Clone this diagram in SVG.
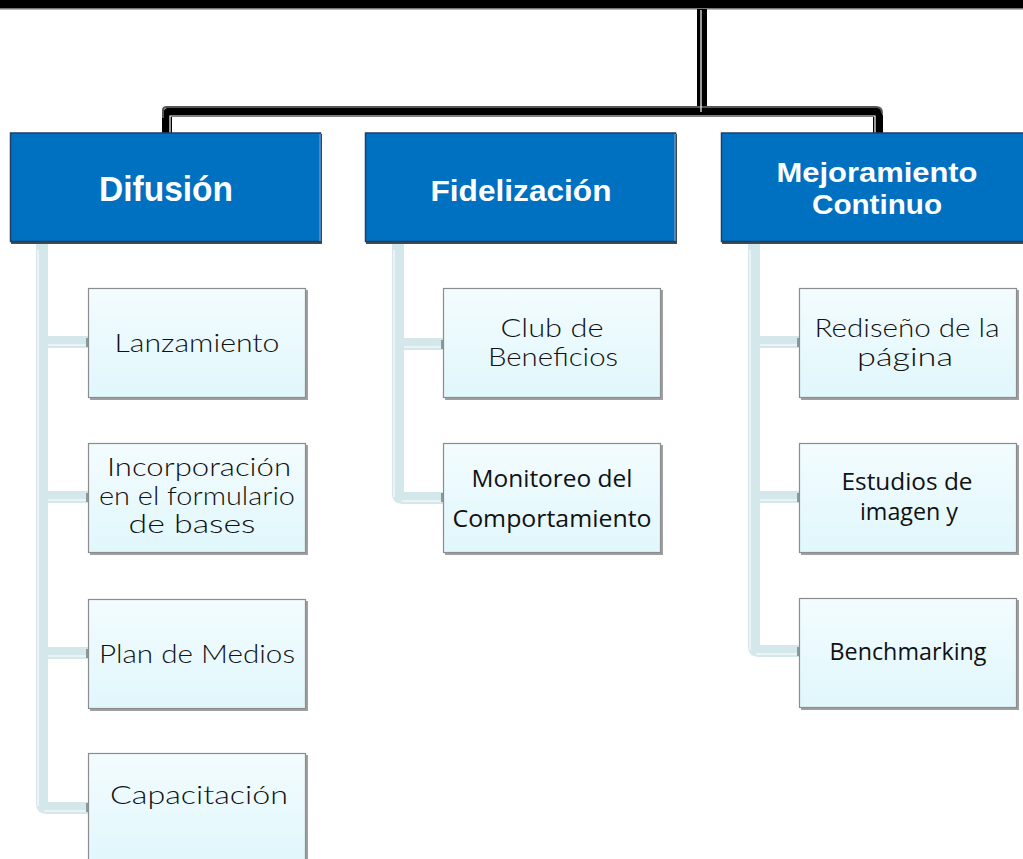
<svg xmlns="http://www.w3.org/2000/svg" width="1023" height="859" viewBox="0 0 1023 859">
<defs>
<linearGradient id="childFill" x1="0" y1="0" x2="0" y2="1">
<stop offset="0" stop-color="#F3FCFE"/>
<stop offset="1" stop-color="#E0F7FC"/>
</linearGradient>
</defs>
<style>
.hdr{fill:#0070C0;stroke:#1F3F66;stroke-width:1.5}
.hdrEdge{fill:none;stroke:#5B9BD5;stroke-width:1.5}
.hdrShadow{fill:#4A4A4A}
.box{fill:url(#childFill);stroke:#8C8C8C;stroke-width:1.2}
.shadow{fill:#A0A0A0}
.ht{font-family:"Liberation Sans",Arial,sans-serif;font-weight:bold;fill:#FFFFFF;text-anchor:middle}
.ct{font-family:Lato,"Liberation Sans",sans-serif;font-weight:300;font-size:25px;fill:#111;text-anchor:middle}
.cb{font-family:"Open Sans","Liberation Sans",sans-serif;font-size:23px;fill:#111;text-anchor:middle}
.main{fill:none;stroke:#000;stroke-width:10;stroke-linejoin:round}
.mainIn{fill:none;stroke:#FFFFFF;stroke-width:1.2}
.mainTop{fill:none;stroke:#555;stroke-width:2}
.bar{fill:none;stroke:#D4E7EB;stroke-width:12;stroke-linejoin:round}
.barIn{fill:none;stroke:#EAF4F6;stroke-width:2}
.cap{fill:#8C9A9E}
</style>
<rect x="0" y="0" width="1023" height="8" fill="#000"/>
<rect x="0" y="8" width="1023" height="1.5" fill="#777"/>
<g id="connectors">
<path class="main" d="M702,9 V111"/>
<path class="main" d="M167,133 V116 Q167,112 171,112 H874 Q878,112 878,116 V133"/>
<path class="mainTop" d="M163,118 V110 Q163,107 167,107 H876 Q882,107 882,113"/>
<path class="mainIn" d="M701,10 V112"/>
<path class="mainIn" d="M170,133 V116 H875 V133"/>
<path class="bar" d="M42,243 V804 Q42,808 46,808 H88"/>
<path class="bar" d="M48,342 H88 M48,497 H88 M48,653 H88"/>
<path class="barIn" d="M38,250 V806 M48,345 H88 M48,500 H88 M48,656 H88 M44,811 H88"/>
<path class="bar" d="M398,243 V494 Q398,498 402,498 H443"/>
<path class="bar" d="M404,344 H443"/>
<path class="barIn" d="M394,250 V497 M404,347 H443 M402,501 H443"/>
<path class="bar" d="M754,243 V647 Q754,651 758,651 H799"/>
<path class="bar" d="M760,342 H799 M760,497 H799"/>
<path class="barIn" d="M750,250 V650 M760,345 H799 M760,500 H799 M756,654 H799"/>
<rect class="cap" x="86" y="338" width="3" height="9"/>
<rect class="cap" x="86" y="493" width="3" height="9"/>
<rect class="cap" x="86" y="649" width="3" height="9"/>
<rect class="cap" x="86" y="803" width="3" height="9"/>
<rect class="cap" x="441" y="340" width="3" height="9"/>
<rect class="cap" x="441" y="493" width="3" height="9"/>
<rect class="cap" x="797" y="338" width="3" height="9"/>
<rect class="cap" x="797" y="493" width="3" height="9"/>
<rect class="cap" x="797" y="647" width="3" height="9"/>
</g>
<g id="difusion">
<rect class="hdrShadow" x="11" y="134" width="311" height="110"/>
<rect class="hdr" x="10.5" y="133" width="310" height="108.5"/>
<path class="hdrEdge" d="M320,134 V241"/>
<text class="ht" x="166" y="201" font-size="35" textLength="134" lengthAdjust="spacingAndGlyphs">Difusión</text>
</g>
<g id="fidelizacion">
<rect class="hdrShadow" x="366" y="134" width="311" height="110"/>
<rect class="hdr" x="365.5" y="133" width="310" height="108.5"/>
<path class="hdrEdge" d="M675,134 V241"/>
<text class="ht" x="521" y="201" font-size="30" textLength="181" lengthAdjust="spacingAndGlyphs">Fidelización</text>
</g>
<g id="mejoramiento">
<rect class="hdrShadow" x="722" y="134" width="305" height="110"/>
<rect class="hdr" x="721.5" y="133" width="305" height="108.5"/>
<text class="ht" x="877" y="182" font-size="28" textLength="201" lengthAdjust="spacingAndGlyphs">Mejoramiento</text>
<text class="ht" x="877" y="214" font-size="28" textLength="130" lengthAdjust="spacingAndGlyphs">Continuo</text>
</g>
<g id="lanzamiento">
<rect class="shadow" x="90" y="290" width="218" height="110"/>
<rect class="box" x="88.5" y="288.5" width="217" height="109"/>
<text class="ct" x="197" y="352" textLength="165" lengthAdjust="spacingAndGlyphs">Lanzamiento</text>
</g>
<g id="incorporacion">
<rect class="shadow" x="90" y="445" width="218" height="110"/>
<rect class="box" x="88.5" y="443.5" width="217" height="109"/>
<text class="ct" x="199" y="476" textLength="184" lengthAdjust="spacingAndGlyphs">Incorporación</text>
<text class="ct" x="197" y="505" textLength="196" lengthAdjust="spacingAndGlyphs">en el formulario</text>
<text class="ct" x="192" y="533" textLength="127" lengthAdjust="spacingAndGlyphs">de bases</text>
</g>
<g id="plan-medios">
<rect class="shadow" x="90" y="601" width="218" height="110"/>
<rect class="box" x="88.5" y="599.5" width="217" height="109"/>
<text class="ct" x="197" y="663" textLength="196" lengthAdjust="spacingAndGlyphs">Plan de Medios</text>
</g>
<g id="capacitacion">
<rect class="shadow" x="90" y="755" width="218" height="110"/>
<rect class="box" x="88.5" y="753.5" width="217" height="109"/>
<text class="ct" x="199" y="804" textLength="178" lengthAdjust="spacingAndGlyphs">Capacitación</text>
</g>
<g id="club-beneficios">
<rect class="shadow" x="445" y="290" width="218" height="110"/>
<rect class="box" x="443.5" y="288.5" width="217" height="109"/>
<text class="ct" x="552" y="337" textLength="103" lengthAdjust="spacingAndGlyphs">Club de</text>
<text class="ct" x="553" y="366" textLength="130" lengthAdjust="spacingAndGlyphs">Beneficios</text>
</g>
<g id="monitoreo">
<rect class="shadow" x="445" y="445" width="218" height="110"/>
<rect class="box" x="443.5" y="443.5" width="217" height="109"/>
<text class="cb" x="552" y="487" textLength="161" lengthAdjust="spacingAndGlyphs">Monitoreo del</text>
<text class="cb" x="552" y="527" textLength="199" lengthAdjust="spacingAndGlyphs">Comportamiento</text>
</g>
<g id="rediseno">
<rect class="shadow" x="801" y="290" width="218" height="110"/>
<rect class="box" x="799.5" y="288.5" width="217" height="109"/>
<text class="ct" x="907" y="337" textLength="185" lengthAdjust="spacingAndGlyphs">Rediseño de la</text>
<text class="ct" x="905" y="366" textLength="96" lengthAdjust="spacingAndGlyphs">página</text>
</g>
<g id="estudios">
<rect class="shadow" x="801" y="445" width="218" height="110"/>
<rect class="box" x="799.5" y="443.5" width="217" height="109"/>
<text class="cb" x="907" y="490" textLength="131" lengthAdjust="spacingAndGlyphs">Estudios de</text>
<text class="cb" x="909" y="520" textLength="98" lengthAdjust="spacingAndGlyphs">imagen y</text>
</g>
<g id="benchmarking">
<rect class="shadow" x="801" y="600" width="218" height="110"/>
<rect class="box" x="799.5" y="598.5" width="217" height="109"/>
<text class="cb" x="908" y="660" textLength="157" lengthAdjust="spacingAndGlyphs">Benchmarking</text>
</g>
</svg>
